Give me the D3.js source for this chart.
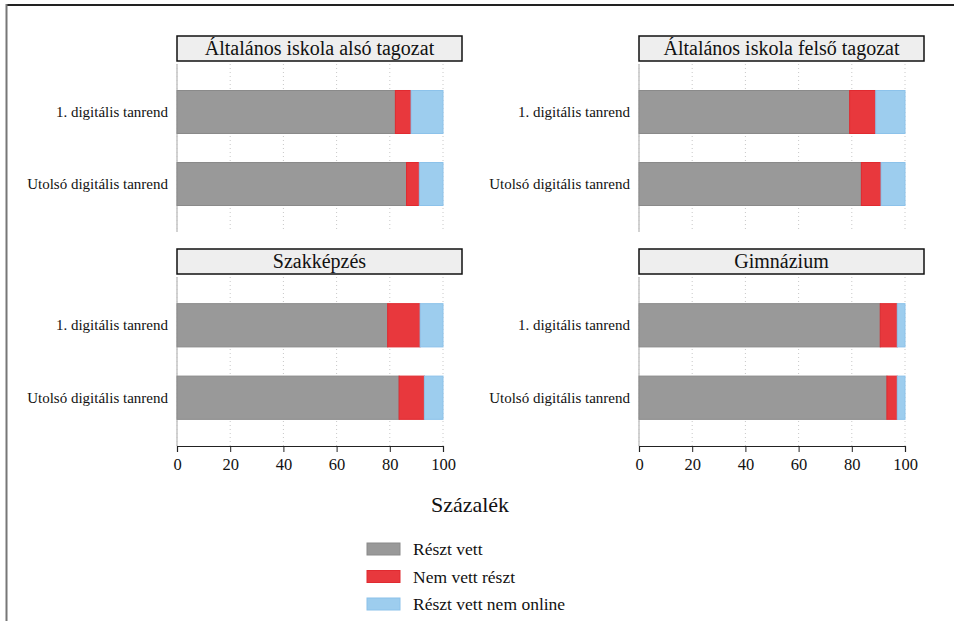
<!DOCTYPE html>
<html><head><meta charset="utf-8">
<script src="https://cdn.jsdelivr.net/npm/d3@7"></script>
<style>body{margin:0;background:#fff}svg{display:block}text{font-family:"Liberation Serif","DejaVu Serif",serif;fill:#111}</style>
</head><body>
<svg id="c" width="954" height="621"></svg>
<script>
const panels = ["Általános iskola alsó tagozat","Általános iskola felső tagozat","Szakképzés","Gimnázium"];
const categories = ["1. digitális tanrend","Utolsó digitális tanrend"];
const seriesNames = ["Részt vett","Nem vett részt","Részt vett nem online"];
// per panel, per category
const reszt_vett = [[82.1,86.3],[79.2,83.6],[79.2,83.5],[90.7,93.2]];
const nem_vett = [[5.9,4.8],[9.8,7.4],[12.2,9.5],[6.4,3.9]];
const nem_online = [[12.0,8.9],[11.0,9.0],[8.6,7.0],[2.9,2.9]];
const ticks = [0,20,40,60,80,100];
const colors = ["#999999","#e8383d","#9dcdee"];
const strokes = ["#8a8a8a","#e02a30","#8cc2ea"];

const svg = d3.select("#c");
// frame
svg.append("line").attr("x1",6).attr("x2",954).attr("y1",5).attr("y2",5).attr("stroke","#222").attr("stroke-width",2);
svg.append("line").attr("x1",6.5).attr("x2",6.5).attr("y1",4).attr("y2",621).attr("stroke","#777").attr("stroke-width",2);

const layout = [
  {x0:177,x1:443,hx1:462,hy:36,top:64,bot:232,axis:false},
  {x0:639,x1:905,hx1:924,hy:36,top:64,bot:232,axis:false},
  {x0:177,x1:443,hx1:462,hy:249,top:277,bot:446,axis:true},
  {x0:639,x1:905,hx1:924,hy:249,top:277,bot:446,axis:true}
];

panels.forEach((name,p)=>{
  const L = layout[p];
  const g = svg.append("g");
  const x = d3.scaleLinear().domain([0,100]).range([L.x0,L.x1]);
  const y = d3.scaleBand().domain(categories).range([L.top,L.bot]).paddingInner(0.403).paddingOuter(0.368);
  // header
  g.append("rect").attr("x",L.x0).attr("y",L.hy).attr("width",L.hx1-L.x0).attr("height",25)
    .attr("fill","#eeeeee").attr("stroke","#111").attr("stroke-width",1.5);
  g.append("text").attr("x",(L.x0+L.hx1)/2).attr("y",L.hy+19).attr("text-anchor","middle")
    .attr("font-size",20).text(name);
  // grid
  g.selectAll(".grid").data(ticks).join("line")
    .attr("x1",d=>x(d)).attr("x2",d=>x(d)).attr("y1",L.top).attr("y2",L.bot)
    .attr("stroke","#c8c8c8").attr("stroke-width",1).attr("stroke-dasharray","1,3");
  // y axis line
  g.append("line").attr("x1",L.x0).attr("x2",L.x0).attr("y1",L.top).attr("y2",L.bot)
    .attr("stroke","#c4c4c4").attr("stroke-width",1.5);
  // bars
  categories.forEach((c,i)=>{
    const vals=[reszt_vett[p][i],nem_vett[p][i],nem_online[p][i]];
    let acc=0;
    vals.forEach((v,s)=>{
      g.append("rect").attr("x",x(acc)).attr("y",y(c)).attr("width",x(acc+v)-x(acc)).attr("height",y.bandwidth())
        .attr("fill",colors[s]).attr("stroke",strokes[s]).attr("stroke-width",1);
      acc+=v;
    });
  });
  // category labels
  const yAx = d3.axisLeft(y).tickSize(0).tickPadding(9);
  const ya = g.append("g").attr("transform",`translate(${L.x0},0)`).call(yAx);
  ya.select(".domain").remove();
  ya.selectAll("text").attr("font-size",15).attr("font-family","Liberation Serif").attr("fill","#111");
  if(L.axis){
    const xa = g.append("g").attr("transform",`translate(0,${L.bot})`)
      .call(d3.axisBottom(x).tickValues(ticks).tickSize(6).tickPadding(6));
    xa.select(".domain").attr("stroke","#222").attr("stroke-width",1.2);
    xa.selectAll(".tick line").attr("stroke","#222");
    xa.selectAll("text").attr("font-size",16.5).attr("font-family","Liberation Serif").attr("fill","#111");
  }
});

svg.append("text").attr("x",470).attr("y",512).attr("text-anchor","middle").attr("font-size",22).text("Százalék");

const lg = svg.append("g");
seriesNames.forEach((n,i)=>{
  const cy = 549 + i*27.5;
  lg.append("rect").attr("x",367).attr("y",cy-6).attr("width",33).attr("height",12)
    .attr("fill",colors[i]).attr("stroke",strokes[i]).attr("stroke-width",1);
  lg.append("text").attr("x",413).attr("y",cy+6).attr("font-size",17.5).text(n);
});
</script>
</body></html>
